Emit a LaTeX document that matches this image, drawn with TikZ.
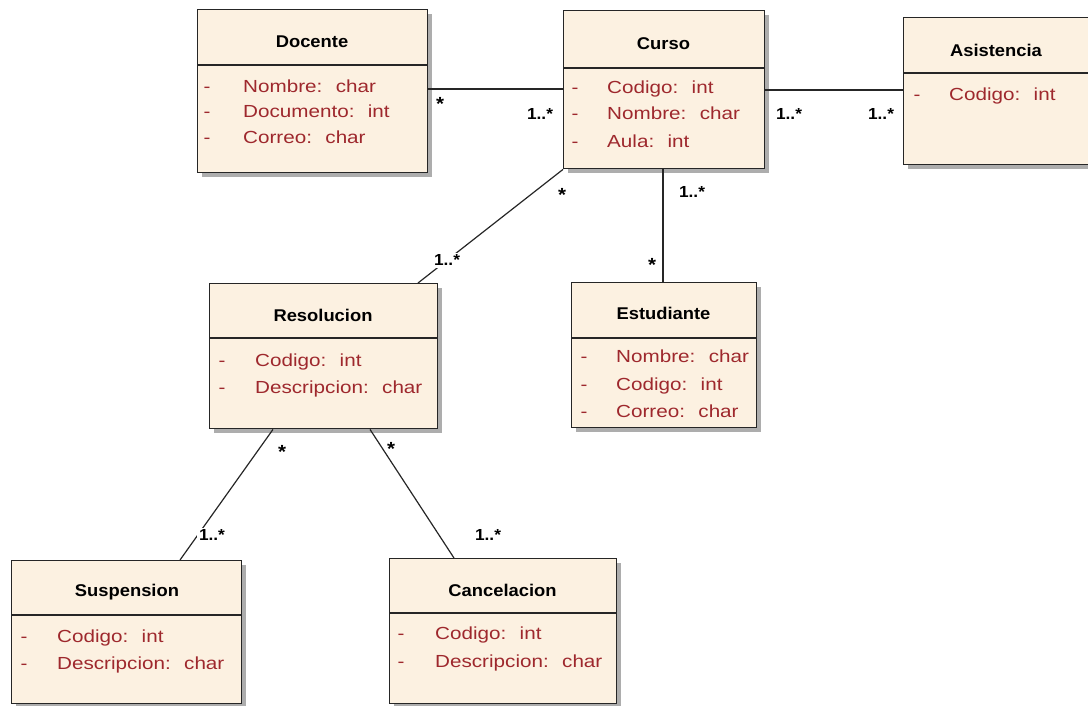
\documentclass[tikz,border=0pt]{standalone}
\usepackage{fontspec}
\setmainfont{Liberation Sans}
\newfontfamily\attrfont{Liberation Sans}[FakeStretch=1.18]
\newfontfamily\headfont{Liberation Sans}[FakeStretch=1.08]
\usetikzlibrary{shadows}
\definecolor{boxfill}{RGB}{252,241,225}
\definecolor{attrred}{RGB}{158,40,45}
\tikzset{
  classbox/.style={draw=black!85, line width=1.4pt, fill=boxfill, inner sep=0pt,
    anchor=north west,
    drop shadow={shadow xshift=4pt, shadow yshift=-4pt, fill=black!40, opacity=0.8}},
  classtitle/.style={font=\headfont\bfseries\fontsize{17}{20}\selectfont, inner sep=0pt},
  attrdash/.style={font=\attrfont\fontsize{17.5}{20}\selectfont, text=attrred, inner sep=0pt,
    text height=13pt, text depth=4pt},
  attr/.style={font=\attrfont\fontsize{17.5}{20}\selectfont, text=attrred, anchor=west,
    inner sep=0pt, text height=13pt, text depth=4pt},
  divider/.style={line width=1.4pt, draw=black!85},
  assoc/.style={line width=1.2pt, draw=black!85},
  mult/.style={font=\headfont\bfseries\fontsize{16}{18}\selectfont, inner sep=1pt},
  multstar/.style={font=\headfont\bfseries\fontsize{19}{20}\selectfont, inner sep=1pt},
  multbg/.style={mult, fill=white, inner sep=2pt},
}
\begin{document}
\begin{tikzpicture}[x=1pt,y=-1pt]
\useasboundingbox (0,0) rectangle (1088,705);

% ---------- Docente ----------
\node[classbox, minimum width=230pt, minimum height=163pt] (docente) at (197,9) {};
\node[classtitle] (docenteT) at (312,42) {Docente};
\draw[divider] (docente.west |- 0,65) -- (docente.east |- 0,65);
\node[attrdash] (docenteD1) at (207,88) {-};
\node[attrdash] (docenteD2) at (207,113) {-};
\node[attrdash] (docenteD3) at (207,139) {-};
\node[attr] (docenteA1) at (243,88) {Nombre: \ char};
\node[attr] (docenteA2) at (243,113) {Documento: \ int};
\node[attr] (docenteA3) at (243,139) {Correo: \ char};

% ---------- Curso ----------
\node[classbox, minimum width=201pt, minimum height=158pt] (curso) at (563,10) {};
\node[classtitle] (cursoT) at (663.5,44) {Curso};
\draw[divider] (curso.west |- 0,68) -- (curso.east |- 0,68);
\node[attrdash] (cursoD1) at (575,89) {-};
\node[attrdash] (cursoD2) at (575,115) {-};
\node[attrdash] (cursoD3) at (575,143) {-};
\node[attr] (cursoA1) at (607,89) {Codigo: \ int};
\node[attr] (cursoA2) at (607,115) {Nombre: \ char};
\node[attr] (cursoA3) at (607,143) {Aula: \ int};

% ---------- Asistencia ----------
\node[classbox, minimum width=200pt, minimum height=147pt] (asistencia) at (903,17) {};
\node[classtitle] (asistenciaT) at (996,50) {Asistencia};
\draw[divider] (asistencia.west |- 0,73) -- (asistencia.east |- 0,73);
\node[attrdash] (asistenciaD1) at (917,96) {-};
\node[attr] (asistenciaA1) at (949,96) {Codigo: \ int};

% ---------- Resolucion ----------
\node[classbox, minimum width=228pt, minimum height=145pt] (resolucion) at (209,283) {};
\node[classtitle] (resolucionT) at (323,315) {Resolucion};
\draw[divider] (resolucion.west |- 0,338) -- (resolucion.east |- 0,338);
\node[attrdash] (resolucionD1) at (222,362) {-};
\node[attrdash] (resolucionD2) at (222,389) {-};
\node[attr] (resolucionA1) at (255,362) {Codigo: \ int};
\node[attr] (resolucionA2) at (255,389) {Descripcion: \ char};

% ---------- Estudiante ----------
\node[classbox, minimum width=185pt, minimum height=145pt] (estudiante) at (571,282) {};
\node[classtitle] (estudianteT) at (663.5,313) {Estudiante};
\draw[divider] (estudiante.west |- 0,338) -- (estudiante.east |- 0,338);
\node[attrdash] (estudianteD1) at (584,358) {-};
\node[attrdash] (estudianteD2) at (584,386) {-};
\node[attrdash] (estudianteD3) at (584,413) {-};
\node[attr] (estudianteA1) at (616,358) {Nombre: \ char};
\node[attr] (estudianteA2) at (616,386) {Codigo: \ int};
\node[attr] (estudianteA3) at (616,413) {Correo: \ char};

% ---------- Suspension ----------
\node[classbox, minimum width=230pt, minimum height=143pt] (suspension) at (11,560) {};
\node[classtitle] (suspensionT) at (127,592) {Suspension};
\draw[divider] (suspension.west |- 0,615) -- (suspension.east |- 0,615);
\node[attrdash] (suspensionD1) at (24,638) {-};
\node[attrdash] (suspensionD2) at (24,665) {-};
\node[attr] (suspensionA1) at (57,638) {Codigo: \ int};
\node[attr] (suspensionA2) at (57,665) {Descripcion: \ char};

% ---------- Cancelacion ----------
\node[classbox, minimum width=227pt, minimum height=145pt] (cancelacion) at (389,558) {};
\node[classtitle] (cancelacionT) at (502.5,590) {Cancelacion};
\draw[divider] (cancelacion.west |- 0,613) -- (cancelacion.east |- 0,613);
\node[attrdash] (cancelacionD1) at (401,635) {-};
\node[attrdash] (cancelacionD2) at (401,663) {-};
\node[attr] (cancelacionA1) at (435,635) {Codigo: \ int};
\node[attr] (cancelacionA2) at (435,663) {Descripcion: \ char};

% ---------- Associations ----------
\draw[assoc] (docente.east |- 0,89) -- (curso.west |- 0,89);
\node[multstar] (m1a) at (440,104) {*};
\node[mult] (m1b) at (540,114) {1..*};

\draw[assoc] (curso.east |- 0,90) -- (asistencia.west |- 0,90);
\node[mult] (m2a) at (789,114) {1..*};
\node[mult] (m2b) at (881,114) {1..*};

\draw[assoc] (curso.south -| 663,0) -- (estudiante.north -| 663,0);
\node[mult] (m3a) at (692,192) {1..*};
\node[multstar] (m3b) at (652,265) {*};

\draw[assoc] (curso.south west) -- (resolucion.north -| 418,0);
\node[multstar] (m4a) at (562,195) {*};
\node[multbg] (m4b) at (447,260) {1..*};

\draw[assoc] (resolucion.south -| 273,0) -- (suspension.north -| 180,0);
\node[multstar] (m5a) at (282,452) {*};
\node[multbg] (m5b) at (212,535) {1..*};

\draw[assoc] (resolucion.south -| 370,0) -- (cancelacion.north -| 454,0);
\node[multstar] (m6a) at (391,449) {*};
\node[mult] (m6b) at (488,535) {1..*};
\end{tikzpicture}
\end{document}
